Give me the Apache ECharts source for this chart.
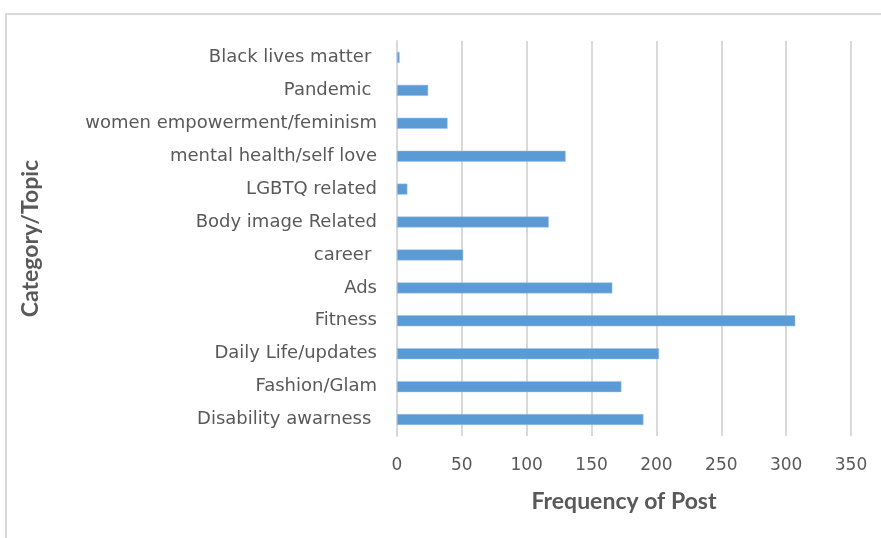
<!DOCTYPE html>
<html>
<head>
<meta charset="utf-8">
<script src="https://cdn.jsdelivr.net/npm/echarts@6/dist/echarts.min.js"></script>
<style>
  html, body { margin: 0; padding: 0; background: #ffffff; }
  #chart { width: 881px; height: 538px; }
</style>
</head>
<body>
<div id="chart"></div>
<script>
// Topics, bottom to top as they appear on the category axis
const categories = [
  'Disability awarness ',
  'Fashion/Glam',
  'Daily Life/updates',
  'Fitness',
  'Ads',
  'career ',
  'Body image Related',
  'LGBTQ related',
  'mental health/self love',
  'women empowerment/feminism',
  'Pandemic ',
  'Black lives matter '
];
// Number of posts per topic
const postCounts = [190, 173, 202, 307, 166, 51, 117, 8, 130, 39, 24, 2];
// Value axis ticks
const xTicks = [0, 50, 100, 150, 200, 250, 300, 350];

const labelFont = '"DejaVu Sans", sans-serif';
const titleFont = 'Lato, "Open Sans", sans-serif';
const textColor = '#595959';
const gridColor = '#d9d9d9';

const chart = echarts.init(document.getElementById('chart'), null, { renderer: 'canvas' });
chart.setOption({
  backgroundColor: '#ffffff',
  animation: false,
  graphic: [{
    type: 'rect',
    shape: { x: 6, y: 14, width: 900, height: 600 },
    style: { fill: 'none', stroke: gridColor, lineWidth: 2 },
    silent: true
  }],
  grid: { left: 397, right: 30, top: 41, bottom: 102 },
  xAxis: {
    type: 'value',
    min: xTicks[0],
    max: xTicks[xTicks.length - 1],
    interval: xTicks[1] - xTicks[0],
    name: 'Frequency of Post',
    nameLocation: 'middle',
    nameGap: 54,
    nameTextStyle: { fontFamily: titleFont, fontSize: 23, fontWeight: 'bold', color: textColor },
    axisLine: { show: false },
    axisTick: { show: false },
    axisLabel: { fontFamily: labelFont, fontSize: 17, color: textColor, margin: 21 },
    splitLine: { show: true, lineStyle: { color: gridColor, width: 2 } }
  },
  yAxis: {
    type: 'category',
    data: categories,
    name: 'Category/Topic',
    nameLocation: 'middle',
    nameGap: 355,
    nameTextStyle: { fontFamily: titleFont, fontSize: 23, fontWeight: 'bold', color: textColor },
    axisLine: { show: true, lineStyle: { color: gridColor, width: 2 } },
    axisTick: { show: false },
    axisLabel: { fontFamily: labelFont, fontSize: 18, color: textColor, margin: 20, padding: [3, 0, 0, 0] },
    splitLine: { show: false }
  },
  series: [{
    type: 'bar',
    data: postCounts,
    barWidth: 11,
    itemStyle: { color: '#5b9bd5', borderColor: '#9cc3e6', borderWidth: 0.5 }
  }]
});
</script>
</body>
</html>
